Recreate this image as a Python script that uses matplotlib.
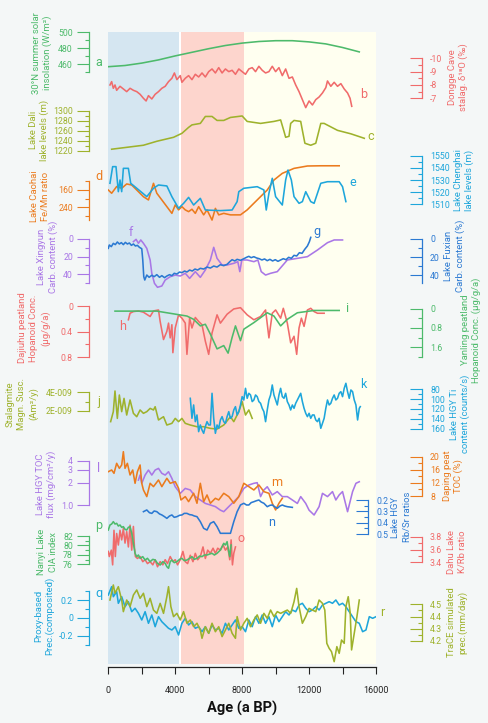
import numpy as np
import matplotlib.pyplot as plt

plt.rcParams['font.family'] = ['Roboto', 'DejaVu Sans']

# ---- records: (age a BP, value) ----
insolation = [(0, 457), (1000, 458.5), (2000, 461.5), (3000, 465.5), (4000, 470.5), (5000, 475),
              (6000, 479.5), (7000, 483.5), (8000, 486.5), (9000, 488.5), (10000, 489.5),
              (11000, 489.5), (12000, 488), (13000, 485.5), (14000, 481), (15000, 475.5)]

dongge = [(100, -8.0), (200, -8.25), (300, -7.75), (400, -8.0), (500, -7.6), (700, -7.9), (900, -7.7),
          (1100, -7.5), (1300, -7.75), (1500, -7.6), (1700, -7.5), (1900, -7.3), (2100, -7.0),
          (2260, -6.8), (2400, -7.2), (2600, -6.95), (2800, -7.3), (3000, -7.5), (3200, -7.75),
          (3400, -7.9), (3600, -8.25), (3800, -8.5), (3950, -8.9), (4100, -8.4), (4300, -8.7),
          (4400, -8.2), (4600, -8.5), (4800, -8.7), (5000, -8.4), (5200, -8.8), (5400, -8.6),
          (5600, -8.9), (5800, -8.6), (6000, -9.0), (6200, -9.2), (6400, -8.9), (6600, -9.3),
          (6800, -8.9), (7000, -9.2), (7200, -9.0), (7400, -9.1), (7600, -8.8), (7800, -9.2),
          (8000, -9.0), (8200, -8.8), (8400, -9.2), (8600, -9.3), (8800, -9.0), (9000, -9.4),
          (9200, -9.1), (9400, -8.9), (9600, -9.0), (9800, -9.4), (10000, -9.0), (10200, -9.3),
          (10400, -8.7), (10600, -9.2), (10800, -8.5), (11000, -8.6), (11200, -8.0), (11400, -7.5),
          (11600, -6.9), (11800, -6.3), (12000, -6.8), (12200, -6.5), (12400, -6.9), (12600, -7.1),
          (12800, -7.4), (13000, -7.8), (13100, -8.3), (13300, -7.9), (13500, -8.2), (13700, -7.9),
          (13900, -8.1), (14100, -7.7), (14300, -7.4), (14450, -7.0), (14550, -6.4)]

dali = [(200, 1223), (2100, 1231), (2900, 1239), (3900, 1247), (4400, 1255), (4800, 1267), (5000, 1272),
        (5500, 1275), (5800, 1289), (6200, 1289), (6500, 1281), (6900, 1281), (7300, 1287), (8000, 1290),
        (8300, 1279), (9100, 1275), (9900, 1279), (10300, 1282), (10500, 1259), (10600, 1247),
        (10800, 1249), (10900, 1275), (11100, 1281), (11500, 1279), (11600, 1261), (11750, 1235),
        (12100, 1231), (12400, 1235), (12700, 1275), (12900, 1275), (13700, 1261), (14500, 1254),
        (15300, 1245)]

caohai = [(0, 160), (200, 175), (500, 144), (800, 152), (1100, 132), (1400, 137), (1700, 160), (2100, 191),
          (2400, 206), (2700, 129), (2900, 175), (3200, 206), (3500, 237), (3800, 268), (4000, 229),
          (4200, 252), (4400, 237), (4600, 252), (4800, 260), (5000, 249), (5200, 268), (5400, 237),
          (5700, 275), (5900, 252), (6200, 299), (6400, 245), (6600, 275), (6900, 268), (7300, 275),
          (7900, 275), (8300, 252), (8900, 206), (9500, 160), (9900, 114), (10400, 83), (11100, 60),
          (11900, 49), (12700, 48), (13800, 48)]

chenghai = [(100, 1527.3), (260, 1541), (460, 1541), (600, 1520.4), (700, 1530), (800, 1520.4),
            (900, 1539.6), (1200, 1539.6), (1340, 1527.3), (1700, 1523.2), (2300, 1516.3), (2700, 1523.2),
            (3000, 1525.9), (3500, 1525.1), (3800, 1516.3), (4200, 1506.7), (4500, 1510.8), (4800, 1515.7),
            (5100, 1509.4), (5500, 1514.9), (5800, 1505.3), (6700, 1504.8), (7400, 1505.3), (7700, 1512.2),
            (7800, 1520.4), (8100, 1523.2), (8900, 1524.5), (9300, 1521.8), (9440, 1505.3), (9600, 1519),
            (9800, 1531.4), (10000, 1516.3), (10400, 1509.4), (10600, 1530), (10740, 1538.2),
            (10940, 1530), (11100, 1516.3), (11400, 1510.8), (11600, 1512.2), (11800, 1520.4),
            (12100, 1512.2), (12300, 1510.8), (12700, 1527.3), (13100, 1528.6), (13800, 1528.6),
            (14000, 1524.5), (14200, 1512.2)]

xingyun = [(1500, 3.0), (1660, 0.4), (1800, 4.9), (1940, 1.1), (2100, 4.9), (2300, 10.7), (2500, 24.0),
           (2600, 39.2), (2760, 50.7), (2940, 55.2), (3200, 53.7), (3400, 46.9), (3700, 43.1), (4000, 41.2),
           (4300, 42.3), (4600, 39.2), (4860, 45.0), (5200, 37.3), (5500, 43.8), (5800, 35.4), (6100, 24.0),
           (6300, 9.5), (6500, 22.1), (6800, 29.7), (7100, 29.7), (7500, 27.8), (7740, 25.9), (7860, 37.3),
           (7980, 24.0), (8300, 24.0), (8700, 25.9), (8940, 24.0), (9140, 37.3), (9400, 41.2), (9700, 39.2),
           (10100, 37.3), (10700, 24.0), (11300, 22.1), (11900, 20.2), (12500, 12.6), (13100, 4.2),
           (13500, 1.1), (14000, 1.1)]

fuxian = [(0, 10.3), (60, 6.6), (180, 8.4), (300, 4.8), (420, 6.2), (540, 3.3), (660, 5.5), (780, 4.0),
          (900, 6.2), (1020, 3.7), (1140, 5.5), (1260, 4.4), (1380, 7.0), (1500, 5.5), (1620, 7.7),
          (1740, 7.0), (1860, 9.2), (2000, 10.7), (2060, 23.1), (2120, 41.5), (2180, 45.2), (2300, 39.7),
          (2440, 42.2), (2600, 40.0), (2740, 41.5), (2900, 39.3), (3060, 42.2), (3200, 40.4), (3360, 42.6),
          (3500, 40.8), (3660, 39.3), (3800, 40.4), (3940, 37.8), (4100, 38.6), (4260, 36.4), (4400, 37.1),
          (4560, 35.3), (4700, 36.4), (4860, 34.2), (5020, 35.3), (5180, 33.1), (5340, 34.2), (5500, 32.3),
          (5700, 33.1), (5900, 30.9), (6100, 32.0), (6300, 29.8), (6500, 30.9), (6700, 28.3), (6900, 29.4),
          (7100, 27.9), (7260, 25.0), (7400, 22.8), (7560, 24.2), (7700, 22.4), (7900, 23.5), (8100, 21.7),
          (8260, 20.2), (8400, 19.1), (8540, 20.6), (8700, 19.5), (8860, 20.9), (9020, 21.7), (9180, 23.1),
          (9340, 22.0), (9500, 23.9), (9660, 22.4), (9820, 24.2), (9980, 22.8), (10140, 24.6),
          (10300, 23.1), (10460, 21.7), (10620, 22.8), (10780, 20.2), (10940, 21.3), (11100, 18.0),
          (11260, 18.7), (11420, 15.1), (11580, 15.8), (11740, 11.4), (11900, 7.7), (12020, 2.9),
          (12100, -1.8)]

dajiuhu = [(1200, 0.215), (1300, 0.113), (1500, 0.087), (1800, 0.077), (2100, 0.097), (2500, 0.164),
           (2700, 0.077), (3000, 0.062), (3100, 0.241), (3300, 0.523), (3500, 0.395), (3600, 0.267),
           (3700, 0.497), (3800, 0.292), (3860, 0.728), (4000, 0.343), (4200, 0.138), (4400, 0.190),
           (4600, 0.267), (4700, 0.754), (4860, 0.190), (5000, 0.343), (5200, 0.179), (5400, 0.241),
           (5600, 0.292), (5800, 0.549), (6000, 0.754), (6200, 0.420), (6500, 0.138), (6700, 0.267),
           (7100, 0.128), (7500, 0.046), (7900, 0.026), (8300, 0.138), (8700, 0.215), (9100, 0.164),
           (9400, 0.062), (9600, 0.497), (9800, 0.113), (10000, 0.062), (10300, 0.190), (10460, 0.036),
           (10700, 0.267), (10900, 0.574), (11100, 0.472), (11260, 0.754), (11400, 0.343), (11540, 0.190),
           (11700, 0.318), (11900, 0.062), (12100, 0.036), (12300, 0.087), (12500, 0.113), (12900, 0.113)]

yanling = [(400, 0.108), (1500, 0.108), (2900, 0.108), (4700, 0.311), (5100, 0.447), (5500, 0.717),
           (5800, 0.650), (6100, 1.056), (6500, 1.665), (6900, 1.529), (7160, 1.841), (7400, 1.191),
           (7600, 0.717), (7900, 1.326), (8100, 0.853), (8700, 0.582), (9500, 0.176), (9900, 0.311),
           (10300, 0.717), (10700, 0.447), (11300, 0.176), (12300, 0.081), (13800, 0.081)]

magsusc = [(140, 0.86e-9), (300, 1.93e-9), (400, 4.14e-9), (540, 1.21e-9), (660, 3.71e-9), (800, 1.93e-9),
           (940, 3.35e-9), (1100, 1.57e-9), (1300, 3.18e-9), (1500, 1.75e-9), (1700, 1.39e-9),
           (1900, 2.11e-9), (2100, 1.75e-9), (2300, 1.93e-9), (2500, 2.28e-9), (2700, 2.11e-9),
           (2800, 2.46e-9), (3000, 1.04e-9), (3300, 1.39e-9), (3500, 0.50e-9), (3800, 0.68e-9),
           (4000, 1.21e-9), (4200, 0.86e-9), (4400, 1.21e-9), (4600, 0.68e-9), (4900, 0.50e-9),
           (5300, 0.32e-9), (5700, 0.32e-9), (6100, 0.14e-9), (6500, 0.07e-9), (6900, 0.50e-9),
           (7300, 1.39e-9), (7500, 0.86e-9), (7800, 1.93e-9), (8000, 3.0e-9), (8200, 1.57e-9),
           (8400, 2.11e-9), (8600, 1.21e-9)]

hgy_ti = [(4900, 98.3), (5000, 138.9), (5100, 111.8), (5200, 145.7), (5300, 132.1), (5400, 166.0),
          (5500, 152.4), (5600, 162.6), (5700, 169.4), (5800, 155.8), (5900, 145.7), (6000, 152.4),
          (6100, 152.4), (6200, 88.1), (6300, 138.9), (6400, 169.4), (6500, 152.4), (6600, 159.2),
          (6700, 142.3), (6800, 135.5), (6900, 145.7), (7000, 149.1), (7100, 135.5), (7200, 125.4),
          (7300, 138.9), (7400, 135.5), (7500, 122.0), (7600, 115.2), (7700, 132.1), (7800, 125.4),
          (7900, 111.8), (8000, 94.9), (8100, 101.7), (8200, 78.0), (8300, 98.3), (8400, 88.1),
          (8500, 91.5), (8600, 105.0), (8700, 101.7), (8800, 91.5), (8900, 94.9), (9000, 105.0),
          (9100, 108.4), (9200, 118.6), (9300, 125.4), (9400, 145.7), (9500, 122.0), (9600, 101.7),
          (9700, 91.5), (9800, 71.2), (9900, 91.5), (10000, 101.7), (10100, 111.8), (10200, 91.5),
          (10300, 78.0), (10400, 94.9), (10500, 98.3), (10600, 88.1), (10700, 105.0), (10800, 111.8),
          (10900, 122.0), (11000, 111.8), (11100, 118.6), (11200, 108.4), (11300, 101.7), (11400, 94.9),
          (11500, 88.1), (11600, 105.0), (11700, 118.6), (11800, 128.7), (11900, 135.5), (12000, 128.7),
          (12100, 138.9), (12200, 132.1), (12300, 132.1), (12400, 142.3), (12500, 145.7), (12600, 138.9),
          (12700, 159.2), (12800, 149.1), (12900, 138.9), (13000, 118.6), (13100, 101.7), (13200, 111.8),
          (13300, 108.4), (13400, 98.3), (13500, 91.5), (13600, 101.7), (13700, 98.3), (13800, 88.1),
          (13900, 84.8), (14000, 94.9), (14100, 78.0), (14200, 67.8), (14300, 84.8), (14400, 98.3),
          (14500, 81.4), (14600, 84.8), (14700, 101.7), (14800, 111.8), (14900, 142.3), (15000, 118.6),
          (15060, 115.2)]

hgy_toc = [(1800, 2.19), (1900, 2.56), (2000, 1.98), (2200, 2.56), (2400, 2.99), (2600, 2.56), (2800, 2.99),
           (3000, 3.15), (3200, 2.70), (3400, 2.56), (3600, 2.84), (3800, 2.31), (4000, 1.78), (4300, 1.45),
           (4600, 1.69), (4900, 1.61), (5200, 1.31), (5500, 1.18), (5800, 1.06), (6100, 1.01), (6400, 0.96),
           (6700, 0.86), (6900, 0.82), (7200, 0.96), (7500, 1.12), (7800, 1.31), (8100, 1.69), (8400, 1.88),
           (8700, 1.98), (8900, 2.02), (9100, 1.31), (9300, 1.61), (9500, 1.78), (9800, 1.38), (10100, 1.53),
           (10400, 1.31), (10700, 1.31), (11000, 1.18), (11300, 1.06), (11500, 1.31), (11800, 1.06),
           (12000, 0.86), (12300, 0.74), (12600, 0.96), (12800, 1.45), (13100, 1.31), (13400, 1.53),
           (13600, 1.18), (13800, 1.38), (14000, 1.53), (14300, 0.82), (14600, 1.53), (14800, 1.98),
           (15000, 2.08)]

daping = [(0, 15.43), (200, 15.94), (340, 14.93), (500, 17.98), (660, 16.45), (800, 17.47), (900, 21.53),
          (1000, 16.45), (1140, 17.98), (1300, 14.42), (1460, 15.94), (1600, 11.88), (1740, 15.43),
          (1900, 17.47), (2000, 11.88), (2100, 9.84), (2300, 7.81), (2500, 11.88), (2700, 10.86),
          (3000, 12.89), (3200, 10.86), (3500, 13.40), (3700, 11.88), (4000, 12.38), (4200, 10.35),
          (4340, 6.79), (4600, 7.81), (4800, 6.28), (5100, 8.83), (5300, 5.78), (5500, 11.88), (5700, 6.28),
          (5900, 8.32), (6100, 5.78), (6400, 7.30), (6600, 6.79), (6900, 8.83), (7200, 7.81), (7500, 5.78),
          (7800, 7.81), (8100, 11.88), (8400, 10.86), (8700, 9.84), (9000, 11.37), (9300, 9.33),
          (9600, 8.83), (9800, 5.78), (10000, 3.74), (10200, 5.78), (10400, 7.30)]

hgy_rbsr = [(2100, 0.303), (2300, 0.288), (2460, 0.312), (2600, 0.318), (2740, 0.297), (2900, 0.303),
            (3060, 0.323), (3200, 0.332), (3360, 0.347), (3500, 0.362), (3660, 0.341), (3800, 0.332),
            (3940, 0.353), (4100, 0.347), (4260, 0.335), (4400, 0.332), (4540, 0.318), (4700, 0.318),
            (4860, 0.329), (5000, 0.332), (5140, 0.341), (5300, 0.347), (5500, 0.391), (5700, 0.450),
            (5900, 0.465), (6100, 0.406), (6300, 0.391), (6500, 0.435), (6700, 0.494), (7000, 0.494),
            (7300, 0.494), (7500, 0.391), (7700, 0.303), (7900, 0.244), (8100, 0.229), (8260, 0.244),
            (8400, 0.244), (8540, 0.223), (8700, 0.215), (8860, 0.206), (9000, 0.200), (9140, 0.218),
            (9300, 0.229), (9500, 0.259), (9660, 0.247), (9800, 0.244), (9940, 0.259), (10100, 0.273),
            (10260, 0.253), (10400, 0.244), (10540, 0.253), (10700, 0.259), (11000, 0.265)]

dahu = [(0, 3.57), (60, 3.49), (180, 3.59), (260, 3.36), (340, 3.90), (420, 3.49), (500, 3.85), (600, 3.67),
        (700, 3.90), (800, 3.75), (900, 3.93), (1000, 3.70), (1100, 3.88), (1200, 3.64), (1300, 3.98),
        (1400, 3.59), (1500, 3.96), (1560, 3.64), (1620, 3.49), (1740, 3.46), (1900, 3.49), (2060, 3.41),
        (2200, 3.44), (2340, 3.38), (2500, 3.41), (2660, 3.36), (2800, 3.44), (2940, 3.33), (3100, 3.41),
        (3260, 3.36), (3400, 3.44), (3540, 3.38), (3700, 3.49), (3860, 3.41), (4000, 3.44), (4140, 3.36),
        (4300, 3.44), (4460, 3.57), (4600, 3.41), (4740, 3.38), (4900, 3.51), (5060, 3.41), (5200, 3.54),
        (5340, 3.44), (5500, 3.49), (5660, 3.64), (5800, 3.46), (5940, 3.59), (6100, 3.54), (6260, 3.62),
        (6400, 3.54), (6540, 3.62), (6700, 3.59), (6860, 3.67), (7000, 3.59), (7140, 3.64), (7260, 3.44),
        (7340, 3.75), (7420, 3.36), (7500, 3.54), (7600, 3.64)]

nanyi = [(0, 83.27), (100, 84.33), (200, 84.54), (300, 85.04), (400, 84.54), (500, 84.69), (600, 84.12),
         (700, 84.33), (800, 83.84), (900, 83.98), (1000, 83.41), (1100, 83.27), (1200, 83.84), (1300, 83.98),
         (1400, 82.57), (1500, 80.45), (1600, 78.33), (1700, 77.62), (1800, 77.97), (1900, 77.27),
         (2060, 77.62), (2200, 76.91), (2340, 77.27), (2500, 76.56), (2660, 77.05), (2800, 76.91),
         (2940, 76.21), (3100, 75.85), (3260, 76.56), (3400, 76.21), (3500, 75.50), (3600, 75.15),
         (3700, 76.56), (3800, 76.91), (3940, 76.35), (4100, 76.56), (4260, 77.05), (4400, 77.27),
         (4540, 76.77), (4700, 76.91), (4860, 77.27), (5000, 77.62), (5140, 77.05), (5300, 77.27),
         (5460, 77.76), (5600, 77.62), (5740, 77.97), (5900, 77.97), (6060, 78.18), (6200, 78.33),
         (6340, 77.97), (6500, 78.33), (6600, 78.68), (6700, 79.03), (6800, 79.74), (6900, 80.45),
         (7000, 80.09), (7100, 80.80), (7180, 79.03), (7260, 77.62), (7340, 80.09)]

proxy_prec = [(0, 0.256), (200, 0.349), (300, 0.237), (500, 0.293), (600, 0.163), (800, 0.237), (1000, 0.125),
              (1200, 0.181), (1400, 0.069), (1600, 0.107), (1800, 0.051), (2000, -0.024), (2200, 0.069),
              (2400, -0.061), (2600, 0.032), (2800, -0.099), (3000, 0.013), (3200, -0.043), (3400, -0.080),
              (3600, -0.117), (3800, -0.136), (4000, -0.099), (4200, -0.192), (4400, -0.061), (4600, -0.005),
              (4800, -0.080), (5000, -0.043), (5200, -0.117), (5400, -0.099), (5600, -0.155), (5800, -0.099),
              (6000, -0.173), (6200, -0.080), (6400, -0.136), (6600, -0.117), (6800, -0.173), (7000, -0.061),
              (7200, -0.136), (7400, -0.080), (7600, -0.024), (7800, -0.117), (8000, -0.099), (8200, -0.155),
              (8400, -0.024), (8600, -0.099), (8800, 0.013), (9000, -0.061), (9200, 0.032), (9400, -0.061),
              (9600, 0.013), (9800, -0.099), (10000, 0.032), (10200, -0.043), (10400, 0.013), (10600, 0.069),
              (10800, 0.032), (11000, 0.088), (11200, 0.069), (11400, 0.144), (11600, 0.163), (11800, 0.107),
              (12000, 0.069), (12200, 0.088), (12400, 0.125), (12600, 0.088), (12800, 0.144), (13000, 0.163),
              (13200, 0.181), (13400, 0.163), (13600, 0.200), (13800, 0.144), (14000, 0.163), (14200, 0.125),
              (14400, 0.069), (14600, 0.013), (14800, -0.043), (15000, -0.061), (15200, -0.155),
              (15400, -0.136), (15600, 0.013), (15800, -0.005), (16000, 0.013)]

trace_prec = [(100, 4.535), (300, 4.658), (400, 4.590), (600, 4.644), (800, 4.535), (900, 4.440), (1100, 4.535),
              (1300, 4.481), (1500, 4.576), (1700, 4.617), (1900, 4.549), (2100, 4.590), (2300, 4.481),
              (2500, 4.549), (2700, 4.453), (2900, 4.426), (3100, 4.508), (3300, 4.426), (3500, 4.562),
              (3600, 4.644), (3740, 4.481), (3900, 4.399), (4100, 4.426), (4300, 4.372), (4500, 4.440),
              (4700, 4.345), (4900, 4.372), (5100, 4.317), (5300, 4.345), (5500, 4.290), (5600, 4.222),
              (5800, 4.317), (6000, 4.263), (6200, 4.345), (6400, 4.276), (6600, 4.317), (6800, 4.236),
              (7000, 4.290), (7200, 4.345), (7400, 4.263), (7600, 4.222), (7700, 4.399), (7900, 4.290),
              (8100, 4.345), (8300, 4.385), (8500, 4.317), (8700, 4.372), (8900, 4.413), (9100, 4.345),
              (9300, 4.426), (9500, 4.385), (9700, 4.453), (9900, 4.399), (10100, 4.440), (10300, 4.426),
              (10500, 4.440), (10700, 4.453), (10900, 4.426), (11100, 4.521), (11260, 4.630), (11400, 4.481),
              (11600, 4.345), (11800, 4.399), (12000, 4.467), (12200, 4.453), (12400, 4.440), (12600, 4.535),
              (12800, 4.508), (12940, 4.453), (13060, 4.181), (13200, 4.140), (13340, 4.113), (13500, 4.031),
              (13660, 4.154), (13800, 4.099), (13940, 4.208), (14100, 4.181), (14200, 4.481), (14340, 4.562),
              (14460, 4.426), (14540, 4.127), (14700, 4.263), (14860, 4.399), (15000, 4.535)]

# ---- layout, in pixels of the 489 x 723 output ----
W, H = 489, 723
X0, X1 = 108.3, 376.0     # x pixels of age 0 and 16000
TOP, BOT = 32.0, 664.0    # vertical extent of the shaded plot area
LEFT_SPINE, RIGHT_SPINE = 89.0, 421.7

BG = '#f4f7f7'
GREEN, RED, OLIVE = '#4dba6b', '#f06b6b', '#9eb22c'
ORANGE, CYAN, PURPLE, BLUE = '#eb7b1e', '#1ea6db', '#a977e6', '#2b79d2'

fig = plt.figure(figsize=(W / 100, H / 100), dpi=100, facecolor=BG)
rect = [X0 / W, 1 - BOT / H, (X1 - X0) / W, (BOT - TOP) / H]


def fx(px):
    return (px - X0) / (X1 - X0)


def fy(py):
    return (BOT - py) / (BOT - TOP)


base = fig.add_axes(rect)
base.set_facecolor('white')
base.set_xlim(0, 16000)
base.set_ylim(0, 1)
base.axvspan(0, 4250, color='#d5e6f1', lw=0)
base.axvspan(4350, 8100, color='#fdd5cd', lw=0)
base.axvspan(8100, 16000, color='#fffff0', lw=0)
for s in ['top', 'left', 'right']:
    base.spines[s].set_visible(False)
base.spines['bottom'].set_position(('outward', 2))
base.spines['bottom'].set_color('#222222')
base.spines['bottom'].set_linewidth(0.9)
base.set_yticks([])
base.set_xticks([0, 4000, 8000, 12000, 16000])
base.set_xticks(np.arange(2000, 16000, 4000), minor=True)
base.tick_params(axis='x', which='both', length=4.8, width=0.8, colors='#222222', labelsize=6.5, pad=9)
base.set_xlabel('Age (a BP)', fontsize=10.5, fontweight='bold', color='#111111', va='center')
base.xaxis.set_label_coords(0.5, fy(708))


def panel(data, color, side, cal, bounds, ticks, labels, minor, ylabel, lab_xy, letter, let_xy,
          spine_px=None, log=False):
    # one transparent axes per record, all sharing the plot area; cal pins two values to pixel rows
    ax = fig.add_axes(rect)
    ax.patch.set_visible(False)
    age, val = np.array(data).T
    ax.plot(age, val, color=color, lw=1.15)
    ax.set_xlim(0, 16000)
    ax.xaxis.set_visible(False)

    (v1, p1), (v2, p2) = cal
    if log:
        ax.set_yscale('log')
        v1, v2 = np.log10(v1), np.log10(v2)
    k = (v2 - v1) / (p2 - p1)
    lo, hi = v1 + (BOT - p1) * k, v1 + (TOP - p1) * k
    if log:
        lo, hi = 10 ** lo, 10 ** hi
    ax.set_ylim(lo, hi)

    for s in ax.spines:
        ax.spines[s].set_visible(s == side)
    if spine_px is None:
        spine_px = LEFT_SPINE if side == 'left' else RIGHT_SPINE
    sp = ax.spines[side]
    sp.set_position(('axes', fx(spine_px)))
    sp.set_bounds(*bounds)
    sp.set_color(color)
    sp.set_linewidth(0.9)

    ax.yaxis.set_ticks_position(side)
    ax.yaxis.set_label_position(side)
    ax.set_yticks(ticks, labels)
    ax.set_yticks(minor, minor=True)
    ax.tick_params(axis='y', which='both', colors=color, labelsize=6.3, width=0.8,
                   direction='out' if side == 'left' else 'in',
                   pad=3.2 if side == 'left' else 6.0)
    ax.tick_params(axis='y', which='major', length=8.4)
    ax.tick_params(axis='y', which='minor', length=3.2)

    ax.set_ylabel(ylabel, color=color, fontsize=6.8, linespacing=1.3, ha='center', va='center')
    ax.yaxis.set_label_coords(fx(lab_xy[0]), fy(lab_xy[1]))
    ax.text(fx(let_xy[0]), fy(let_xy[1]), letter, transform=ax.transAxes, color=color,
            fontsize=9, ha='center', va='center')
    return ax


panel(insolation, GREEN, 'left', ((460, 64.3), (500, 32.3)), (450, 500),
      [460, 480, 500], ['460', '480', '500'], [450, 470, 490],
      '30°N summer solar\ninsolation (W/m²)', (42, 53), 'a', (99, 63))
panel(dongge, RED, 'right', ((-10, 58.3), (-7, 98.3)), (-10, -7),
      [-10, -9, -8, -7], ['-10', '-9', '-8', '-7'], [-9.5, -8.5, -7.5],
      'Dongge Cave\nstalag. δ¹⁸O (‰)', (458, 77), 'b', (364, 95))
panel(dali, OLIVE, 'left', ((1300, 111), (1220, 150.7)), (1220, 1300),
      [1220, 1240, 1260, 1280, 1300], ['1220', '1240', '1260', '1280', '1300'], [1230, 1250, 1270, 1290],
      'Lake Dali\nlake levels (m)', (39, 130), 'c', (371, 137))
panel(caohai, ORANGE, 'left', ((160, 190), (240, 207.3)), (120, 300),
      [160, 240], ['160', '240'], [120, 200, 280],
      'Lake Caohai\nFe/Mn ratio', (40, 196), 'd', (99, 177))
panel(chenghai, CYAN, 'right', ((1550, 155.7), (1510, 204.3)), (1510, 1550),
      [1510, 1520, 1530, 1540, 1550], ['1510', '1520', '1530', '1540', '1550'],
      [1515, 1525, 1535, 1545],
      'Lake Chenghai\nlake levels (m)', (464, 180), 'e', (353, 183))
panel(xingyun, PURPLE, 'left', ((0, 239), (40, 274)), (0, 50),
      [0, 20, 40], ['0', '20', '40'], [10, 30, 50],
      'Lake Xingyun\nCarb. content (%)', (47.5, 257), 'f', (131, 232))
panel(fuxian, BLUE, 'right', ((0, 239), (40, 275.3)), (0, 48),
      [0, 20, 40], ['0', '20', '40'], [10, 30],
      'Lake Fuxian\nCarb. content (%)', (454.5, 256), 'g', (317, 231))
panel(dajiuhu, RED, 'left', ((0, 306), (0.8, 357.3)), (0, 0.8),
      [0, 0.4, 0.8], ['0', '0.4', '0.8'], [0.2, 0.6],
      'Dajiuhu peatland\nHopanoid Conc.\n(µg/g/a)', (34, 328), 'h', (123, 327))
panel(yanling, GREEN, 'right', ((0, 308.5), (1.6, 347.3)), (0, 2.0),
      [0, 0.8, 1.6], ['0', '0.8', '1.6'], [0.4, 1.2, 2.0],
      'Yanling peatland\nHopanoid Conc. (µg/g/a)', (471, 330), 'i', (347, 308))
panel(magsusc, OLIVE, 'left', ((4e-9, 392.3), (2e-9, 411)), (2e-9, 4e-9),
      [2e-9, 4e-9], ['2E-009', '4E-009'], [3e-9],
      'Stalagmite\nMagn. Susc.\n(Am²/y)', (22, 404), 'j', (99, 401))
panel(hgy_ti, CYAN, 'right', ((80, 389.3), (160, 428.7)), (80, 160),
      [80, 100, 120, 140, 160], ['80', '100', '120', '140', '160'], [90, 110, 130, 150],
      'Lake HGY Ti\ncontent (counts/s)', (460, 414), 'k', (363, 385))
panel(hgy_toc, PURPLE, 'left', ((4, 460.7), (1, 505.3)), (1, 4),
      [1, 2, 3, 4], ['1.0', '2', '3', '4'], [],
      'Lake HGY TOC\nflux (mg/cm²/y)', (46, 484), 'l', (99, 468), log=True)
panel(daping, ORANGE, 'right', ((20, 456.7), (8, 496)), (8, 20),
      [8, 12, 16, 20], ['8', '12', '16', '20'], [10, 14, 18],
      'Daping peat\nTOC (%)', (453, 476), 'm', (277, 483))
panel(hgy_rbsr, BLUE, 'right', ((0.2, 500), (0.5, 534)), (0.2, 0.5),
      [0.2, 0.3, 0.4, 0.5], ['0.2', '0.3', '0.4', '0.5'], [0.25, 0.35, 0.45],
      'Lake HGY\nRb/Sr ratios', (401.5, 517), 'n', (272, 522), spine_px=368.3)
panel(dahu, RED, 'right', ((3.8, 536.7), (3.4, 562.3)), (3.4, 3.8),
      [3.4, 3.6, 3.8], ['3.4', '3.6', '3.8'], [3.5, 3.7],
      'Dahu Lake\nK/Rb ratio', (456.7, 552), 'o', (241, 538))
panel(nanyi, GREEN, 'left', ((82, 536), (76, 564.3)), (76, 82),
      [76, 78, 80, 82], ['76', '78', '80', '82'], [77, 79, 81],
      'Nanyi Lake\nCIA index', (47.5, 552), 'p', (99, 526))
panel(proxy_prec, CYAN, 'left', ((0.2, 600), (-0.2, 635.7)), (-0.3, 0.3),
      [-0.2, 0, 0.2], ['-0.2', '0', '0.2'], [-0.3, -0.1, 0.1, 0.3],
      'Proxy-based\nPrec.(composited)', (44.3, 616), 'q', (99, 594))
panel(trace_prec, OLIVE, 'right', ((4.5, 604.3), (4.2, 641)), (4.2, 4.5),
      [4.2, 4.3, 4.4, 4.5], ['4.2', '4.3', '4.4', '4.5'], [4.25, 4.35, 4.45],
      'TraCE simulated\nprec.(mm/day)', (457, 622), 'r', (382, 613))

fig.savefig('out.png', dpi=100, facecolor=BG)
